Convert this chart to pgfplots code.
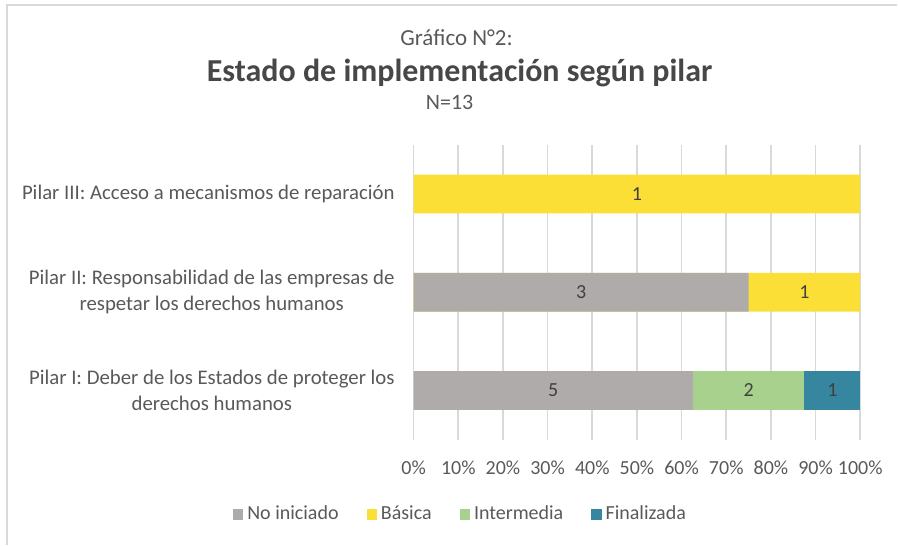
\documentclass[border=0pt]{standalone}
\usepackage{pgfplots}
\pgfplotsset{compat=1.18}
\usepackage{fontspec}
\setmainfont{Carlito}
\definecolor{cgray}{HTML}{AEABAA}
\definecolor{cyellow}{HTML}{FBDF36}
\definecolor{cgreen}{HTML}{A9D18E}
\definecolor{cteal}{HTML}{35869E}
\definecolor{ctext}{HTML}{595959}
\definecolor{clabel}{HTML}{404040}
\definecolor{cgrid}{HTML}{D9D9D9}
\begin{document}
\begin{tikzpicture}[x=1pt,y=1pt]
\path (0,0) rectangle (449,272.5);
\draw[cgrid, line width=0.8pt] (3.5,0) -- (3.5,270) -- (449,270);
\node[ctext, font=\fontsize{11.5}{13}\selectfont] at (228.5,253.5) {Gráfico N°2:};
\node[ctext!80!black, font=\fontsize{16}{19}\selectfont\bfseries] at (230,236) {Estado de implementación según pilar};
\node[ctext, font=\fontsize{11}{13}\selectfont] at (225,221) {N=13};
\begin{axis}[
  at={(207pt,52.5pt)}, anchor=south west,
  scale only axis, width=223.5pt, height=147.5pt,
  xmin=0, xmax=100, ymin=-0.5, ymax=2.5,
  xtick={0,10,...,100},
  xticklabel={\pgfmathprintnumber{\tick}\%},
  ytick={0,1,2},
  yticklabels={{Pilar I: Deber de los Estados de proteger los\\derechos humanos},{Pilar II: Responsabilidad de las empresas de\\respetar los derechos humanos},{Pilar III: Acceso a mecanismos de reparación}},
  yticklabel style={align=center, xshift=-6pt, font=\fontsize{10.4}{12.8}\selectfont, text=ctext},
  xticklabel style={yshift=-7pt, font=\fontsize{10}{12}\selectfont, text=ctext},
  /pgf/number format/assume math mode=true,
  xmajorgrids, major grid style={cgrid, line width=0.8pt},
  axis line style={draw=none},
  major tick length=0pt,
  bar width=19.5pt,
  legend columns=4,
  legend style={at={(0.107,-0.254)}, anchor=center, draw=none, fill=none,
    font=\fontsize{10}{12}\selectfont, text=ctext,
    /tikz/every even column/.append style={column sep=12pt}},
  legend image code/.code={\fill[#1, draw=none] (0pt,-2.6pt) rectangle (5.2pt,2.6pt);},
  legend cell align=left,
]
% legend entries in original order
\addlegendimage{fill=cgray}\addlegendentry{No iniciado}
\addlegendimage{fill=cyellow}\addlegendentry{Básica}
\addlegendimage{fill=cgreen}\addlegendentry{Intermedia}
\addlegendimage{fill=cteal}\addlegendentry{Finalizada}
% cumulative segment ends (drawn back to front)
\addplot[xbar, fill=cteal, draw=none, forget plot] coordinates {(100,0)};
\addplot[xbar, fill=cgreen, draw=none, forget plot] coordinates {(87.5,0)};
\addplot[xbar, fill=cyellow, draw=none, forget plot] coordinates {(100,1) (100,2)};
\addplot[xbar, fill=cgray, draw=none, forget plot] coordinates {(62.5,0) (75,1)};
% counts at segment centres
\addplot[draw=none, mark=none, forget plot, nodes near coords, nodes near coords align=center,
  point meta=explicit symbolic,
  every node near coord/.append style={text=clabel, font=\fontsize{10}{12}\selectfont}]
  coordinates {(31.25,0) [5] (75,0) [2] (93.75,0) [1] (37.5,1) [3] (87.5,1) [1] (50,2) [1]};
\end{axis}
\end{tikzpicture}
\end{document}
